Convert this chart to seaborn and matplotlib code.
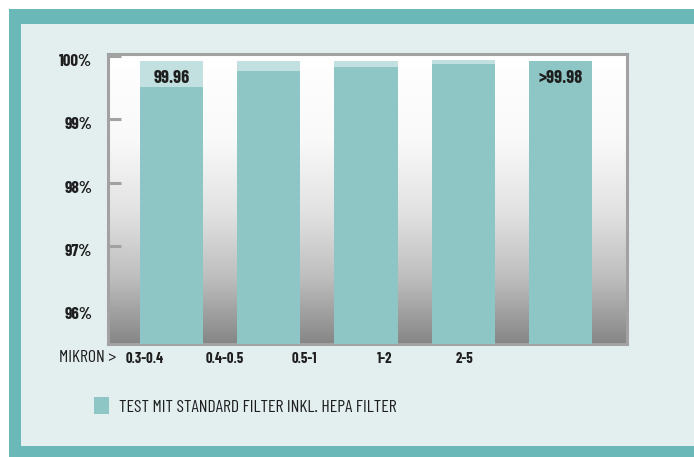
import numpy as np
import matplotlib
matplotlib.use("Agg")
import matplotlib.pyplot as plt
from matplotlib.patches import Rectangle
from matplotlib.colors import LinearSegmentedColormap
from matplotlib.transforms import ScaledTranslation
from matplotlib import font_manager
import seaborn as sns

# ---- data ----
categories = ["0.3-0.4", "0.4-0.5", "0.5-1", "1-2", "2-5"]
measured = [99.51, 99.76, 99.82, 99.87, 99.92]        # dark teal part
upper_range = [99.92, 99.92, 99.92, 99.94, 99.92]     # light teal cap
bar_texts = ["99.96", "", "", "", ">99.98"]
y_ticks = [96, 97, 98, 99, 100]
y_tick_labels = ["96%", "97%", "98%", "99%", "100%"]
axis_prefix = "MIKRON >"
legend_label = "TEST MIT STANDARD FILTER INKL. HEPA FILTER"

# ---- style ----
sns.set_theme(style="white")
names = {f.name for f in font_manager.fontManager.ttflist}
candidates = ["Barlow Condensed", "Barlow Semi Condensed", "Fira Sans Condensed",
              "Asap Condensed", "Archivo Narrow", "DejaVu Sans"]
cond = next(c for c in candidates if c in names)
plt.rcParams["font.family"] = [cond, "DejaVu Sans"]
plt.rcParams["font.stretch"] = "condensed"

DARK = "#8EC6C5"
LIGHT = "#C1E0DF"
FRAME = "#6BB8B9"
PANEL = "#E3EFEF"
SPINE = "#A2A2A2"
TEXT = "#1E1E1E"

W, H = 694, 457
fig = plt.figure(figsize=(W / 100, H / 100), dpi=100)
fig.patch.set_facecolor("white")

def fig_rect(x0, y0, x1, y1, color):
    fig.patches.append(Rectangle((x0 / W, 1 - y1 / H), (x1 - x0) / W, (y1 - y0) / H,
                                 transform=fig.transFigure, facecolor=color,
                                 edgecolor="none", zorder=-10))

fig_rect(9, 9, W + 5, H + 5, FRAME)
fig_rect(21, 24, W + 5, 446, PANEL)

ax = fig.add_axes([107.5 / W, 1 - 343.5 / H, (626.5 - 107.5) / W, (343.5 - 53.5) / H])
ax.set_facecolor("white")

xlim = (-0.658, 4.679)
ylim = (95.458, 100.04)

# gradient background
cmap = LinearSegmentedColormap.from_list(
    "bg", [(0.0, "#FFFFFF"), (0.3, "#F9F9F9"), (0.55, "#E2E2E2"),
           (0.78, "#BDBDBD"), (1.0, "#878787")])
grad = np.linspace(0, 1, 256).reshape(-1, 1)
ax.imshow(grad, extent=[xlim[0], xlim[1], ylim[0], ylim[1]], origin="upper",
          aspect="auto", cmap=cmap, zorder=0)

sns.barplot(x=categories, y=upper_range, color=LIGHT, saturation=1, width=0.65,
            linewidth=0, ax=ax, zorder=2)
sns.barplot(x=categories, y=measured, color=DARK, saturation=1, width=0.65,
            linewidth=0, ax=ax, zorder=3, label=legend_label)

ax.bar_label(ax.containers[0], labels=bar_texts, padding=-19, fontsize=13.2,
             fontweight="bold", color=TEXT, zorder=5)

ax.set_xlim(*xlim)
ax.set_ylim(*ylim)

for s in ax.spines.values():
    s.set_color(SPINE)
    s.set_linewidth(2.2)
    s.set_visible(True)

ax.set_yticks(y_ticks, labels=y_tick_labels)
ax.tick_params(axis="y", direction="in", length=9, width=2.2, color=SPINE,
               pad=11, labelsize=12.2, labelcolor=TEXT, left=True)
for lab in ax.get_yticklabels():
    lab.set_fontweight("bold")
    lab.set_transform(lab.get_transform() + ScaledTranslation(0, -4 / 100, fig.dpi_scale_trans))

label_pos = np.arange(len(categories)) * 0.821 - 0.272
ax.set_xticks(label_pos, labels=categories)
ax.tick_params(axis="x", length=0, pad=6, labelsize=10.5, labelcolor=TEXT)
for lab in ax.get_xticklabels():
    lab.set_fontweight("bold")
ax.set_xlabel("")
ax.set_ylabel("")
ax.grid(False)

fig.text(59 / W, 1 - 357 / H, axis_prefix, fontsize=12.8, color=TEXT,
         ha="left", va="center")

ax.legend(loc="center left", bbox_to_anchor=(94 / W, 1 - 406 / H),
          bbox_transform=fig.transFigure, frameon=False, fontsize=12.8,
          handlelength=0.82, handleheight=1.05, handletextpad=0.6,
          labelcolor=TEXT, borderpad=0, borderaxespad=0)

fig.savefig("out.png", dpi=100, facecolor=fig.get_facecolor())
